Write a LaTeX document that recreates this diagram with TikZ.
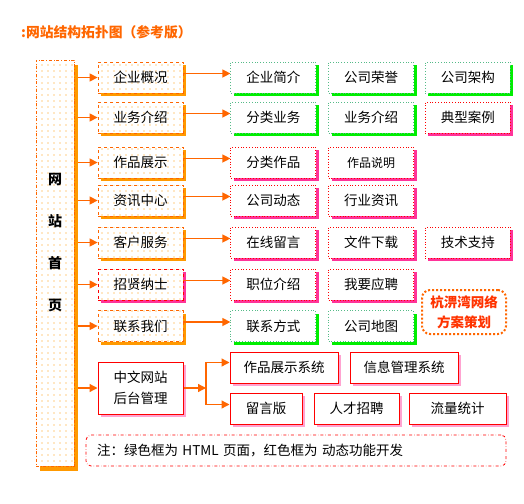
\documentclass[tikz,border=0pt]{standalone}
\usepackage{fontspec}
\setmainfont{Noto Sans CJK SC}
\usetikzlibrary{arrows.meta,positioning,shadows,patterns}
\definecolor{orng}{HTML}{FF6600}
\definecolor{orshade}{HTML}{FF9900}
\definecolor{grnline}{HTML}{55BB88}
\definecolor{grnshade}{HTML}{00EE00}
\definecolor{pinkshade}{HTML}{FF3399}
\definecolor{redtxt}{HTML}{FF3300}
\pgfdeclarepatternformonly{odots}{\pgfpoint{-1pt}{-1pt}}{\pgfpoint{1pt}{1pt}}{\pgfpoint{6pt}{6pt}}{\pgfpathcircle{\pgfpointorigin}{0.55pt}\pgfusepath{fill}}
\tikzset{
  >={Triangle[length=8pt,width=8pt]},
  base/.style={minimum width=85pt,minimum height=31pt,inner sep=1pt,font=\fontsize{13.5}{16}\selectfont,align=center},
  sh/.style={drop shadow={shadow xshift=3pt,shadow yshift=-3pt,fill=#1,opacity=1}},
  l1box/.style 2 args={base,sh=#2,preaction={fill=white},draw=#1,dashed,line width=0.8pt,pattern=odots,pattern color=orshade},
  obox/.style={l1box={orng}{orshade}},
  pbox/.style={l1box={red}{pinkshade}},
  gbox/.style={base,sh=grnshade,fill=white,draw=grnline,dotted,line width=0.8pt},
  rbox/.style={base,sh=pinkshade,fill=white,draw=red,dotted,line width=0.8pt},
  bbox/.style={base,sh=pinkshade!45,fill=white,draw=red,line width=1pt},
  homebox/.style={minimum width=38pt,minimum height=406pt,inner sep=0pt,
    drop shadow={shadow xshift=4pt,shadow yshift=-5pt,fill=orshade,opacity=1},
    preaction={fill=white},draw=orng,dash dot,line width=0.8pt,pattern=odots,pattern color=orshade},
  bubble/.style={draw=orng,line width=2pt,dash pattern=on 2pt off 2pt,rounded corners=8pt,
    minimum width=84pt,minimum height=44pt,inner sep=1pt,align=center,text=redtxt,
    font=\bfseries\fontsize{13.5}{20}\selectfont},
  note/.style={draw=red,dash dot,line width=0.8pt,rounded corners=5pt,minimum height=31pt,
    text width=398pt,inner xsep=11pt,align=left,font=\fontsize{13.5}{16}\selectfont},
  arr/.style={->,draw=orng,line width=1.3pt},
}
\begin{document}
\begin{tikzpicture}[x=1pt,y=-1pt,node distance=12pt]
\useasboundingbox (0,0) rectangle (524,503);
\node[anchor=west,inner sep=0pt,text=orng,font=\bfseries\fontsize{13.8}{16}\selectfont] (title) at (21,32) {:网站结构拓扑图（参考版）};
% home column
\node[homebox] (home) at (55,263) {};
\node[align=center,font=\bfseries\fontsize{14}{42}\selectfont] (hometxt) at (55,243) {网\\站\\首\\页};
\coordinate (trunk) at (78,0);
% first level
\node[obox] (qygk) at (140.5,77.5) {企业概况};
\node[obox] (ywjs) at (140.5,117.5) {业务介绍};
\node[obox] (zpzs) at (140.5,162.5) {作品展示};
\node[obox] (zxzx) at (140.5,200.5) {资讯中心};
\node[obox] (khfw) at (140.5,242.5) {客户服务};
\node[pbox] (zxns) at (140.5,284.5) {招贤纳士};
\node[obox] (lxwm) at (140.5,326) {联系我们};
\node[bbox,minimum height=52pt,align=left,font=\fontsize{13.5}{21}\selectfont] (htgl) at (140.5,388) {中文网站\\后台管理};
% second level
\node[gbox,right=47pt of qygk] (qyjj) {企业简介};
\node[gbox,right=of qyjj] (gsry) {公司荣誉};
\node[gbox,right=11pt of gsry] (gsjg) {公司架构};
\node[gbox,right=47pt of ywjs] (flyw) {分类业务};
\node[gbox,right=of flyw] (ywjsb) {业务介绍};
\node[rbox,right=11pt of ywjsb] (dxal) {典型案例};
\node[rbox,right=47pt of zpzs] (flzp) {分类作品};
\node[rbox,right=of flzp,font=\fontsize{12}{14}\selectfont] (zpsm) {作品说明};
\node[rbox,right=47pt of zxzx] (gsdt) {公司动态};
\node[rbox,right=of gsdt] (hyzx) {行业资讯};
\node[rbox,right=47pt of khfw] (zxly) {在线留言};
\node[rbox,right=of zxly] (wjxz) {文件下载};
\node[rbox,right=11pt of wjxz] (jszc) {技术支持};
\node[rbox,right=47pt of zxns] (zwjs) {职位介绍};
\node[rbox,right=of zwjs] (wyyp) {我要应聘};
\node[gbox,right=47pt of lxwm] (lxfs) {联系方式};
\node[gbox,right=of lxfs] (gsmap) {公司地图};
\node[bubble] (chm) at (464,312) {杭淠湾网络\\方案策划};
% backend
\node[bbox,minimum width=108pt] (zpxt) at (284,367.5) {作品展示系统};
\node[bbox,minimum width=108pt] (xxgl) at (404,367.5) {信息管理系统};
\node[bbox,minimum width=72pt] (lyb) at (266,408.5) {留言版};
\node[bbox] (rczp) at (356.5,408.5) {人才招聘};
\node[bbox,minimum width=97pt] (lltj) at (457.5,408.5) {流量统计};
\coordinate (jn) at (206,388);
% note
\node[note] (note) at (296,450.5) {注：绿色框为 HTML 页面，红色框为 动态功能开发};
% connectors
\foreach \b in {qygk,ywjs,zpzs,zxzx,khfw,zxns,lxwm,htgl} \draw[arr] (trunk |- \b.west) -- (\b.west);
\foreach \a/\b in {qygk/qyjj,ywjs/flyw,zpzs/flzp,zxzx/gsdt,khfw/zxly,zxns/zwjs,lxwm/lxfs} \draw[arr] ([yshift=4pt]\a.east) -- ([yshift=4pt]\b.west);
\draw[arr] (htgl.east) -- (jn);
\draw[arr] (jn) |- ([yshift=5pt]zpxt.west);
\draw[arr] (jn) |- ([yshift=4pt]lyb.west);
\end{tikzpicture}
\end{document}
